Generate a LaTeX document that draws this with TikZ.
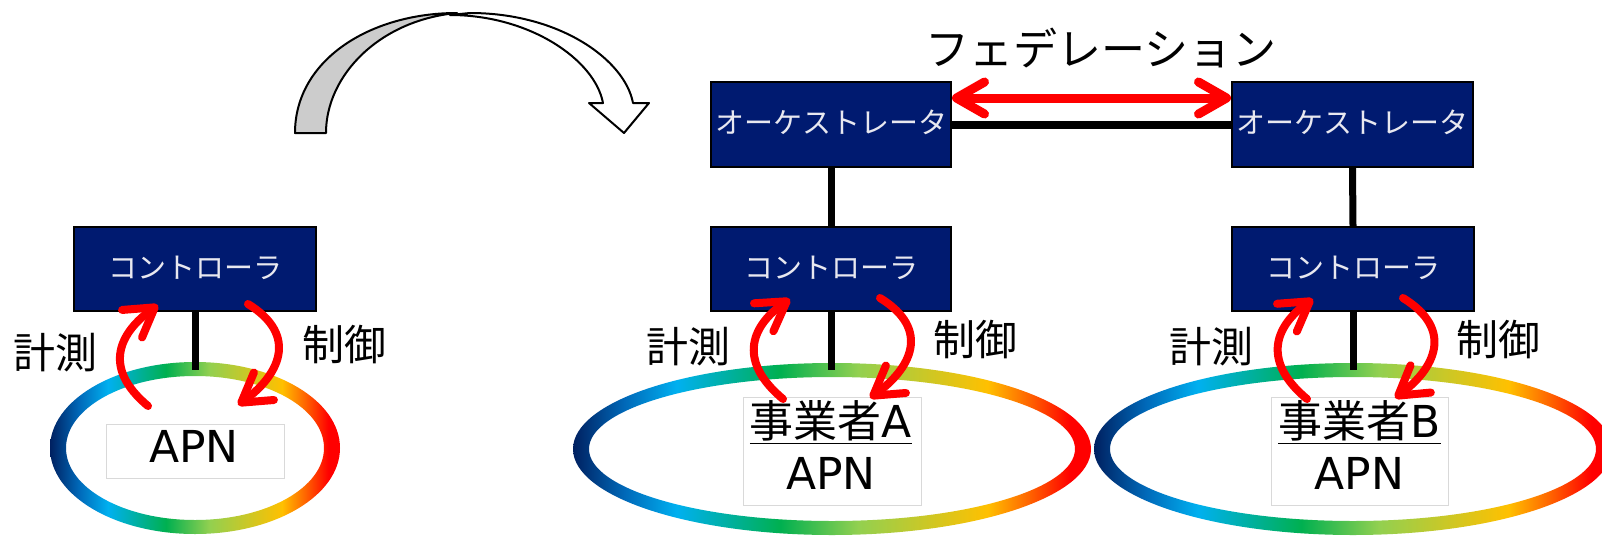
\documentclass[tikz,border=0pt]{standalone}
\usepackage{fontspec}
\setmainfont{Noto Sans CJK JP}
\newfontfamily\latinf{DejaVu Sans}
\usetikzlibrary{arrows.meta}
\definecolor{boxblue}{RGB}{0,26,112}
\definecolor{boxtext}{RGB}{232,232,240}
\definecolor{rnavy}{RGB}{0,32,96}
\definecolor{rblue}{RGB}{0,105,185}
\definecolor{rcyan}{RGB}{0,176,240}
\definecolor{rgreen}{RGB}{0,176,80}
\definecolor{rlgreen}{RGB}{146,208,80}
\definecolor{ryellow}{RGB}{255,192,0}
\definecolor{rorange}{RGB}{255,100,0}
\definecolor{rred}{RGB}{255,0,0}
\pgfdeclarehorizontalshading{ringshade}{100bp}{color(0bp)=(rnavy); color(25bp)=(rnavy); color(30bp)=(rblue); color(35bp)=(rcyan); color(45bp)=(rgreen); color(52.5bp)=(rlgreen); color(65bp)=(ryellow); color(69bp)=(rorange); color(73bp)=(rred); color(100bp)=(rred)}
\tikzset{
  bluebox/.style={draw=black, line width=1pt, fill=boxblue, text=boxtext, inner sep=0pt,
    font=\fontsize{14.5}{17}\selectfont, minimum height=42pt},
  apnbox/.style={draw=black!15, line width=0.5pt, fill=white, inner sep=0pt},
  stem/.style={draw=black, line width=3.5pt},
  redarc/.style={draw=red, line width=4pt, line cap=round, line join=round,
    -{Straight Barb[length=14pt,width=17pt,round]}},
  fedarrow/.style={draw=red, line width=4.5pt, line cap=round,
    {Straight Barb[length=14pt,width=16pt,round]}-{Straight Barb[length=14pt,width=16pt,round]}},
  bigtext/.style={font=\fontsize{21}{24}\selectfont, text=black, inner sep=0pt},
  apntext/.style={font=\fontsize{22}{26}\selectfont, text=black, inner sep=0pt, align=center},
  ring/.style={shading=ringshade, even odd rule},
  outline/.style={draw=black, line width=1pt, line join=round},
}
\begin{document}
\begin{tikzpicture}[x=0.5pt, y=-0.5pt]
\useasboundingbox (0,0) rectangle (1602,536);
\clip (0,0) rectangle (1602,536);
\fill[white] (0,0) rectangle (1602,536);

% rings
\coordinate (ringL) at (195,448);
\coordinate (ringA) at (832,449);
\coordinate (ringB) at (1353,449);
\shade[ring] (ringL) ellipse [x radius=145, y radius=86] (ringL) ellipse [x radius=129, y radius=72];
\shade[ring] (ringA) ellipse [x radius=259, y radius=86] (ringA) ellipse [x radius=243, y radius=72];
\shade[ring] (ringB) ellipse [x radius=259, y radius=86] (ringB) ellipse [x radius=243, y radius=72];
\coordinate (ringLtop) at (195,370);
\coordinate (ringAtop) at (832,370);
\coordinate (ringBtop) at (1353,370);

% boxes
\node[bluebox, minimum width=121pt, text depth=0.2em] (ctrlL) at (195,269) {コントローラ};
\node[bluebox, minimum width=120pt, text depth=0.2em] (ctrlA) at (831,269) {コントローラ};
\node[bluebox, minimum width=121pt, text depth=0.2em] (ctrlB) at (1353,269) {コントローラ};
\node[bluebox, minimum width=120pt, minimum height=42.5pt, text depth=0.3em] (orchA) at (831,124.5) {オーケストレータ};
\node[bluebox, minimum width=120.5pt, minimum height=42.5pt, text depth=0.3em] (orchB) at (1352.5,124.5) {オーケストレータ};

% stems and links
\draw[stem] (ctrlL.south) -- (ctrlL.south |- ringLtop);
\draw[stem] (ctrlA.south) -- (ctrlA.south |- ringAtop);
\draw[stem] (ctrlB.south) -- (ctrlB.south |- ringBtop);
\draw[stem] (orchA.south) -- (ctrlA.north);
\draw[stem] (orchB.south) -- (ctrlB.north);
\draw[draw=black, line width=4pt] (orchA.east) -- (orchB.west);
\draw[fedarrow] ([yshift=13.25pt]orchA.east) -- ([yshift=13.25pt]orchB.west);
\node[apntext] (fed) at (1101,48) {フェデレーション};

% APN boxes
\node[apnbox, minimum width=89pt, minimum height=27pt] (apnL) at (195,451) {};
\node[apntext] (apnLt) at (194,446) {\latinf APN};
\node[apnbox, minimum width=89pt, minimum height=54pt] (apnA) at (832,451) {};
\node[apntext] (apnAt) at (831,444.5) {\underline{事業者{\latinf A}}\\{\latinf APN}};
\node[apnbox, minimum width=88.5pt, minimum height=54pt] (apnB) at (1359.5,451) {};
\node[apntext] (apnBt) at (1359.5,444.5) {\underline{事業者{\latinf B}}\\{\latinf APN}};

% labels
\node[bigtext] (measL) at (55,352.5) {計測};
\node[bigtext] (ctlL) at (344.5,345) {制御};
\node[bigtext] (measA) at (688,346.5) {計測};
\node[bigtext] (ctlA) at (975,339.5) {制御};
\node[bigtext] (measB) at (1211,346.5) {計測};
\node[bigtext] (ctlB) at (1498.5,339.5) {制御};

% red loops
\begin{scope}[shift={(ctrlL.south)}]
  \draw[redarc] (-47,94) .. controls (-95,54) and (-73,19) .. (-37,-7);
  \draw[redarc] (53,-8) .. controls (105,24) and (83,64) .. (43,93);
\end{scope}
\begin{scope}[shift={(ctrlA.south)}]
  \draw[redarc] (-48,87) .. controls (-96,47) and (-77,12) .. (-41,-13);
  \draw[redarc] (49,-14) .. controls (101,18) and (79,57) .. (39,86);
\end{scope}
\begin{scope}[shift={(ctrlB.south)}]
  \draw[redarc] (-46,87) .. controls (-94,47) and (-75,12) .. (-40,-13);
  \draw[redarc] (50,-14) .. controls (102,18) and (81,57) .. (42,86);
\end{scope}

% big curved arrow
\filldraw[outline, fill=black!20] (295,133) .. controls (295,60) and (370,13) .. (457,13)
   .. controls (380,20) and (326,75) .. (326,133) -- cycle;
\filldraw[outline, fill=white] (450,15) .. controls (530,15) and (595,60) .. (603,103)
   -- (589,103) -- (624,133) -- (649,103) -- (633,103)
   .. controls (625,60) and (560,13) .. (470,13) -- cycle;
\end{tikzpicture}
\end{document}
